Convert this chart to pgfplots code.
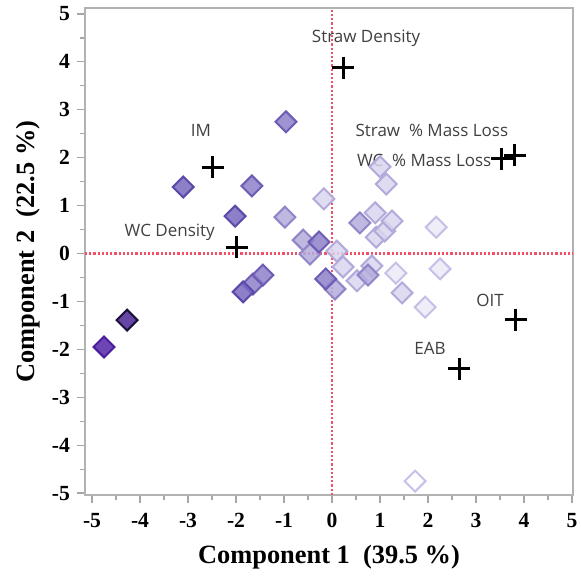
\documentclass[border=0pt]{standalone}
\usepackage{pgfplots}
\pgfplotsset{compat=1.18}
\usepackage{fontspec}
\setmainfont{Liberation Serif}
\newfontfamily\lblfont{Open Sans}
\definecolor{refline}{HTML}{F5506A}
\definecolor{fA}{HTML}{4C2596}\definecolor{dA}{HTML}{1B1035}
\definecolor{fB}{HTML}{5424A8}\definecolor{dB}{HTML}{4A1C9C}
\definecolor{fC}{HTML}{7A68C0}\definecolor{dC}{HTML}{5C48A8}
\definecolor{fD}{HTML}{8E80CA}\definecolor{dD}{HTML}{6E5CB4}
\definecolor{fE}{HTML}{B4ACDC}\definecolor{dE}{HTML}{9284C8}
\definecolor{fF}{HTML}{D9D5EE}\definecolor{dF}{HTML}{B2AADA}
\definecolor{fG}{HTML}{ECEAF7}\definecolor{dG}{HTML}{C6BFE6}
\definecolor{fH}{HTML}{FFFFFF}\definecolor{dH}{HTML}{C8C0EC}
\pgfplotsset{
  dia/.style 2 args={only marks, mark=square*, mark size=3.7pt,
    mark options={rotate=45, fill=#1, draw=#2, line width=1pt, fill opacity=0.85}},
}
\begin{document}
\begin{tikzpicture}
\begin{axis}[
  name=ax,
  scale only axis, width=244pt, height=243.5pt,
  xmin=-5.146, xmax=5.02, ymin=-5.04, ymax=5.125,
  xtick={-5,...,5}, ytick={-5,...,5},
  minor tick num=1,
  tick align=outside,
  xtick pos=bottom, ytick pos=left,
  major tick length=4pt, minor tick length=2.5pt,
  axis line style={draw=gray!60, line width=0.8pt},
  every tick/.style={gray!70, line width=0.6pt},
  tick label style={font=\fontsize{10.8}{12}\selectfont\bfseries},
  xticklabel style={yshift=-1.5pt},
  /pgf/number format/assume math mode=true,
  xlabel={Component 1\ \ (39.5 \%)},
  ylabel={Component 2\ \ (22.5 \%)},
  label style={font=\fontsize{13.2}{15}\selectfont\bfseries},
  xlabel style={at={(axis description cs:0.5,-0.127)}, anchor=center},
  ylabel style={at={(axis description cs:-0.117,0.5)}, anchor=center},
]
% reference lines
\addplot[refline, densely dotted, line width=1.1pt] coordinates {(0,-5.04) (0,5.125)};
\addplot[refline, densely dotted, line width=1.1pt] coordinates {(-5.146,0) (5.02,0)};
% lightest
\addplot[dia={fH}{dH}] coordinates {(1.73,-4.75)};
\addplot[dia={fG}{dG}] coordinates {(1.33,-0.41) (1.94,-1.12) (2.17,0.55) (2.25,-0.32)};
\addplot[dia={fF}{dF}] coordinates {
 (-0.17,1.14) (0.10,0.05) (0.23,-0.28) (0.52,-0.57) (0.83,-0.26)
 (0.90,0.85) (0.92,0.34) (1.00,1.81) (1.10,0.47) (1.13,1.45)
 (1.25,0.68) (1.46,-0.82)};
\addplot[dia={fE}{dE}] coordinates {
 (-0.98,0.76) (-0.60,0.28) (-0.46,-0.01) (0.58,0.64) (0.75,-0.45) (0.06,-0.74)};
\addplot[dia={fD}{dD}] coordinates {
 (-1.67,1.41) (-0.96,2.75) (-1.65,-0.64) (-1.44,-0.45) (-0.27,0.24) (-0.13,-0.53)};
\addplot[dia={fC}{dC}] coordinates {(-3.10,1.39) (-2.02,0.78) (-1.85,-0.80)};
\addplot[dia={fB}{dB}] coordinates {(-4.75,-1.95)};
\addplot[dia={fA}{dA}] coordinates {(-4.27,-1.39)};
% loadings
\addplot[only marks, mark=+, mark size=5.5pt, line width=1.5pt, black] coordinates {
 (0.23,3.88) (-2.48,1.80) (-1.98,0.13) (3.81,2.05) (3.54,1.98) (3.83,-1.38) (2.65,-2.40)};
\begin{scope}[every node/.style={font=\lblfont\fontsize{8.5}{10}\selectfont, text=black!75}]
\node at (axis cs:0.71,4.5) {Straw Density};
\node at (axis cs:-2.73,2.56) {IM};
\node at (axis cs:-3.38,0.45) {WC Density};
\node at (axis cs:2.08,2.56) {Straw\ \ \% Mass Loss};
\node at (axis cs:1.92,1.95) {WC\ \ \% Mass Loss};
\node at (axis cs:3.29,-0.97) {OIT};
\node at (axis cs:2.04,-1.97) {EAB};
\end{scope}
\end{axis}
\pgfresetboundingbox
\path ([shift={(-42.5pt,-41.5pt)}]ax.south west) rectangle ([shift={(4pt,4pt)}]ax.north east);
\end{tikzpicture}
\end{document}
